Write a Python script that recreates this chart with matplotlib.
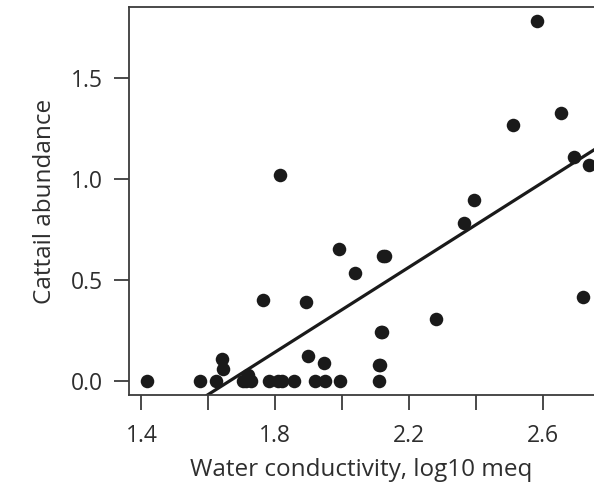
import numpy as np
import matplotlib.pyplot as plt

plt.rcParams['font.family'] = ['Open Sans', 'DejaVu Sans']

# water conductivity (log10 meq) and cattail abundance
conductivity = [1.416, 1.576, 1.623, 1.641, 1.645, 1.703, 1.712, 1.718, 1.728,
                1.763, 1.781, 1.808, 1.815, 1.821, 1.858, 1.893, 1.898, 1.918,
                1.946, 1.948, 1.990, 1.995, 2.039, 2.110, 2.118, 2.113, 2.120,
                2.110, 2.122, 2.130, 2.280, 2.364, 2.394, 2.512, 2.584, 2.655,
                2.694, 2.720, 2.738]
abundance = [0.0, 0.0, 0.0, 0.107, 0.058, 0.0, 0.0, 0.03, 0.0,
             0.40, 0.0, 0.0, 1.021, 0.0, 0.0, 0.39, 0.124, 0.0,
             0.088, 0.0, 0.653, 0.0, 0.533, 0.0, 0.244, 0.079, 0.244,
             0.079, 0.619, 0.619, 0.305, 0.784, 0.896, 1.267, 1.782, 1.325,
             1.107, 0.417, 1.071]

# fitted line
intercept = -1.745
slope = 1.049

xticks = [1.4, 1.6, 1.8, 2.0, 2.2, 2.4, 2.6]
xticklabels = ['1.4', '', '1.8', '', '2.2', '', '2.6']
yticks = [0.0, 0.5, 1.0, 1.5]
yticklabels = ['0.0', '0.5', '1.0', '1.5']

txt = '#2e2e2e'
spine = '#3c3c3c'

fig = plt.figure(figsize=(5.94, 4.92), dpi=100)
ax = fig.add_axes([129 / 594, 97 / 492, 465 / 594, 388 / 492])

ax.scatter(conductivity, abundance, s=95, color='#1a1a1a', zorder=3, linewidths=0)
ax.axline((0, intercept), slope=slope, color='#1a1a1a', lw=2.3, zorder=2)

ax.set_xlim(1.363, 2.754)
ax.set_ylim(-0.069, 1.851)

ax.set_xticks(xticks)
ax.set_xticklabels(xticklabels)
ax.set_yticks(yticks)
ax.set_yticklabels(yticklabels)

ax.spines['right'].set_visible(False)
for s in ['left', 'top', 'bottom']:
    ax.spines[s].set_color(spine)
    ax.spines[s].set_linewidth(1.3)

ax.tick_params(axis='both', length=11, width=1.3, color=spine,
               labelsize=16.5, labelcolor=txt)
ax.tick_params(axis='x', pad=10)
ax.tick_params(axis='y', pad=8)

ax.set_xlabel('Water conductivity, log10 meq', fontsize=17.5, color=txt, labelpad=7)
ax.set_ylabel('Cattail abundance', fontsize=17.5, color=txt, labelpad=10)

fig.savefig('out.png', dpi=100)
